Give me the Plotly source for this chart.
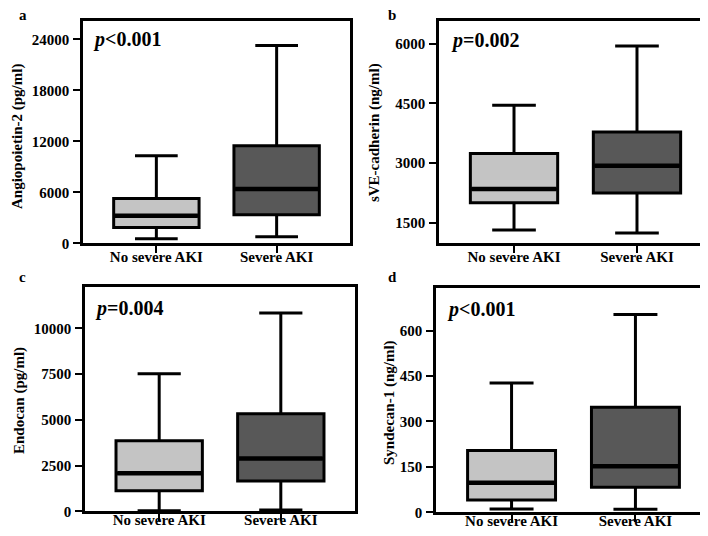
import plotly.graph_objects as go

categories = ["No severe AKI", "Severe AKI"]

# Panel a: Angiopoietin-2 (pg/ml)
ang2_lower = [545, 780]
ang2_q1 = [1890, 3370]
ang2_median = [3250, 6420]
ang2_q3 = [5300, 11490]
ang2_upper = [10330, 23290]

# Panel b: sVE-cadherin (ng/ml)
sve_lower = [1327, 1253]
sve_q1 = [2008, 2255]
sve_median = [2353, 2938]
sve_q3 = [3242, 3785]
sve_upper = [4451, 5941]

# Panel c: Endocan (pg/ml)
endo_lower = [30, 80]
endo_q1 = [1133, 1656]
endo_median = [2087, 2896]
endo_q3 = [3867, 5340]
endo_upper = [7519, 10841]

# Panel d: Syndecan-1 (ng/ml)
synd_lower = [11, 10]
synd_q1 = [41, 83]
synd_median = [98, 152]
synd_q3 = [204, 347]
synd_upper = [427, 653]

panels = [
    dict(letter="a", title="Angiopoietin-2 (pg/ml)", p="<i>p</i><0.001",
         lower=ang2_lower, q1=ang2_q1, med=ang2_median, q3=ang2_q3, upper=ang2_upper,
         yrange=[0, 26200], ticks=[0, 6000, 12000, 18000, 24000]),
    dict(letter="b", title="sVE-cadherin (ng/ml)", p="<i>p</i>=0.002",
         lower=sve_lower, q1=sve_q1, med=sve_median, q3=sve_q3, upper=sve_upper,
         yrange=[990, 6570], ticks=[1500, 3000, 4500, 6000]),
    dict(letter="c", title="Endocan (pg/ml)", p="<i>p</i>=0.004",
         lower=endo_lower, q1=endo_q1, med=endo_median, q3=endo_q3, upper=endo_upper,
         yrange=[0, 12280], ticks=[0, 2500, 5000, 7500, 10000]),
    dict(letter="d", title="Syndecan-1 (ng/ml)", p="<i>p</i><0.001",
         lower=synd_lower, q1=synd_q1, med=synd_median, q3=synd_q3, upper=synd_upper,
         yrange=[0, 741], ticks=[0, 150, 300, 450, 600]),
]

W, H = 708, 536
# frame boxes in pixels: (left, right, top, bottom)
frames = [(75, 342, 13, 239), (431, 704, 13, 239), (77, 347, 283, 511), (428, 703, 284, 512)]
letter_pos = [(15, 7), (384, 7), (14, 273), (384, 273)]
title_pos = [(9, 131), (366, 126), (11, 399), (381, 401)]
p_pos = [(83, 32), (441, 33), (85, 305), (437, 306)]
xlabel_standoff = [-9, -9, -14, -14]

fill_colors = ["#c4c4c4", "#585858"]
FONT = "Liberation Serif"

fig = go.Figure()
annotations = []
for i, pn in enumerate(panels):
    sfx = "" if i == 0 else str(i + 1)
    xa, ya = "x" + sfx, "y" + sfx
    for j, cat in enumerate(categories):
        fig.add_trace(go.Box(
            x=[cat], q1=[pn["q1"][j]], median=[pn["med"][j]], q3=[pn["q3"][j]],
            lowerfence=[pn["lower"][j]], upperfence=[pn["upper"][j]],
            fillcolor=fill_colors[j], line=dict(color="black", width=3),
            whiskerwidth=0.5, width=0.71, boxpoints=False, showlegend=False,
            hoverinfo="skip", xaxis=xa, yaxis=ya,
        ))
        # thicker median line
        fig.add_trace(go.Box(
            x=[cat], q1=[pn["med"][j]], median=[pn["med"][j]], q3=[pn["med"][j]],
            lowerfence=[pn["med"][j]], upperfence=[pn["med"][j]],
            fillcolor="black", line=dict(color="black", width=4.5),
            whiskerwidth=0, width=0.69, boxpoints=False, showlegend=False,
            hoverinfo="skip", xaxis=xa, yaxis=ya,
        ))
    l, r, t, b = frames[i]
    axis_common = dict(showline=True, linewidth=2.5, linecolor="black", mirror=True,
                       ticks="outside", ticklen=7, tickwidth=2, tickcolor="black",
                       showgrid=False, zeroline=False)
    fig.layout["xaxis" + sfx] = dict(domain=[l / W, r / W], anchor=ya,
                                     type="category", categoryorder="array", categoryarray=categories,
                                     tickvals=categories, ticktext=["<b>" + c + "</b>" for c in categories],
                                     range=[-0.61, 1.61], ticklabelstandoff=xlabel_standoff[i],
                                     tickfont=dict(family=FONT, size=15, color="black"),
                                     **axis_common)
    fig.layout["yaxis" + sfx] = dict(domain=[1 - b / H, 1 - t / H], anchor=xa,
                                     range=pn["yrange"], tickvals=pn["ticks"],
                                     ticktext=["<b>%d</b>" % v for v in pn["ticks"]],
                                     ticklabelstandoff=1,
                                     tickfont=dict(family=FONT, size=15, color="black"),
                                     **axis_common)
    annotations.append(dict(text="<b>" + pn["letter"] + "</b>", xref="paper", yref="paper",
                            x=letter_pos[i][0] / W, y=1 - letter_pos[i][1] / H,
                            xanchor="center", yanchor="middle", showarrow=False,
                            font=dict(family=FONT, size=15, color="black")))
    annotations.append(dict(text="<b>" + pn["title"] + "</b>", xref="paper", yref="paper",
                            x=title_pos[i][0] / W, y=1 - title_pos[i][1] / H, textangle=-90,
                            xanchor="center", yanchor="middle", showarrow=False,
                            font=dict(family=FONT, size=15, color="black")))
    annotations.append(dict(text="<b>" + pn["p"] + "</b>", xref="paper", yref="paper",
                            x=p_pos[i][0] / W, y=1 - p_pos[i][1] / H,
                            xanchor="left", yanchor="middle", showarrow=False,
                            font=dict(family=FONT, size=20, color="black")))

fig.update_layout(width=W, height=H, margin=dict(l=0, r=0, t=0, b=0),
                  paper_bgcolor="white", plot_bgcolor="white", boxmode="overlay",
                  annotations=annotations)

fig.write_html("out.html")
